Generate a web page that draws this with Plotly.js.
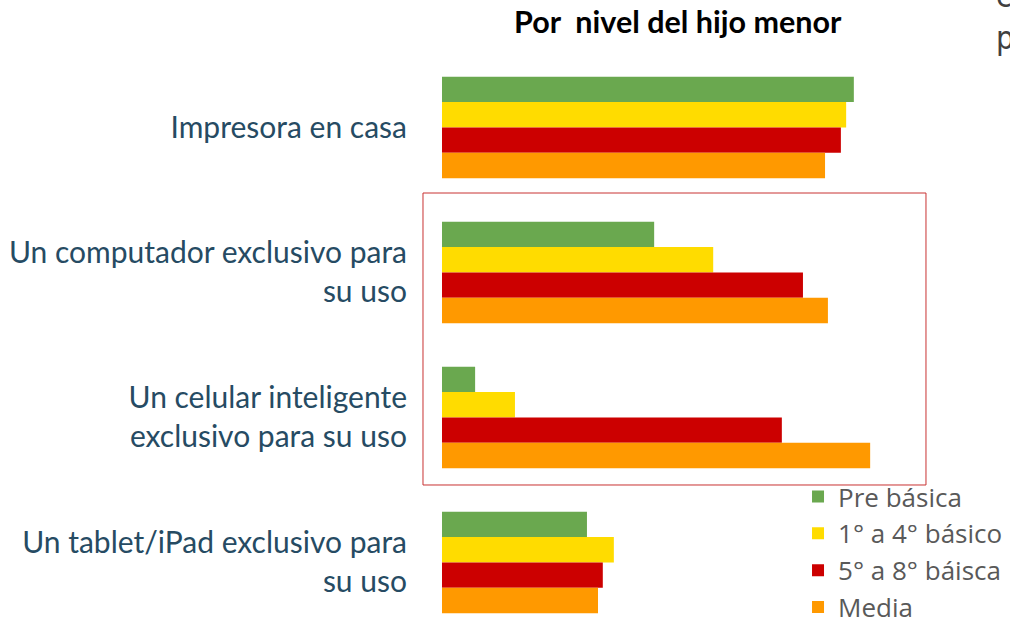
<!DOCTYPE html>
<html>
<head>
<meta charset="utf-8">
<script src="https://cdn.plot.ly/plotly-3.0.1.min.js"></script>
<style>html,body{margin:0;padding:0;background:#fff;}#chart{width:1010px;height:619px;}</style>
</head>
<body>
<div id="chart"></div>
<script>
var categories = [
  "Impresora en casa",
  "Un computador exclusivo para<br>su uso",
  "Un celular inteligente<br>exclusivo para su uso",
  "Un tablet/iPad exclusivo para<br>su uso"
];
var seriesNames = ["Pre básica", "1° a 4° básico", "5° a 8° báisca", "Media"];
var preBasica = [85.8, 44.2, 6.9, 30.2];
var basico1a4 = [84.2, 56.5, 15.2, 35.8];
var basico5a8 = [83.1, 75.2, 70.8, 33.5];
var media = [79.8, 80.4, 89.2, 32.5];
var colors = ["#6AA84F", "#FFDC00", "#CC0000", "#FF9900"];
var seriesValues = [preBasica, basico1a4, basico5a8, media];

var data = seriesValues.map(function (vals, i) {
  return {
    type: "bar",
    orientation: "h",
    name: seriesNames[i],
    x: vals,
    y: categories,
    marker: { color: colors[i] },
    hoverinfo: "x+name"
  };
});

var layout = {
  width: 1010,
  height: 619,
  margin: { l: 442, r: 88, t: 55, b: 0, pad: 0, autoexpand: false },
  paper_bgcolor: "#ffffff",
  plot_bgcolor: "#ffffff",
  barmode: "group",
  bargap: 0.3,
  bargroupgap: 0,
  font: { family: "Lato, 'Open Sans', sans-serif", color: "#264B63" },
  title: {
    text: "<b>Por  nivel del hijo menor</b>",
    font: { family: "Lato, 'Open Sans', sans-serif", size: 30.5, color: "#000000" },
    xref: "container", yref: "container",
    x: 0.671, y: 0.964, xanchor: "center", yanchor: "middle"
  },
  xaxis: {
    range: [0, 100], automargin: false,
    showticklabels: false, showgrid: false, zeroline: false, showline: false, ticks: ""
  },
  yaxis: {
    type: "category", automargin: false,
    range: [3.39, -0.5],
    showgrid: false, zeroline: false, showline: false, ticks: "",
    ticklabelstandoff: 34,
    tickfont: { family: "Lato, 'Open Sans', sans-serif", size: 30, color: "#264B63" }
  },
  legend: {
    x: 0.7417, y: 0.2586, xanchor: "left", yanchor: "top",
    bgcolor: "rgba(0,0,0,0)",
    font: { family: "'Open Sans', Lato, sans-serif", size: 26, color: "#595959" },
    tracegroupgap: 0
  },
  shapes: [{
    type: "rect", xref: "paper", yref: "paper",
    x0: -0.0396, x1: 1.0083, y0: 0.2376, y1: 0.7553,
    line: { color: "#C83232", width: 1 }, fillcolor: "rgba(0,0,0,0)"
  }],
  annotations: [{
    text: "c<br>p", xref: "paper", yref: "paper", showarrow: false,
    x: (994 - 442) / 480, y: 1 + 38 / 564, xanchor: "left", yanchor: "middle", align: "left",
    font: { family: "'Liberation Sans Narrow', 'DejaVu Sans Condensed', sans-serif", size: 32, color: "#404040" }
  }],
  showlegend: true
};

Plotly.newPlot("chart", data, layout, { displayModeBar: false, responsive: false });
</script>
</body>
</html>
